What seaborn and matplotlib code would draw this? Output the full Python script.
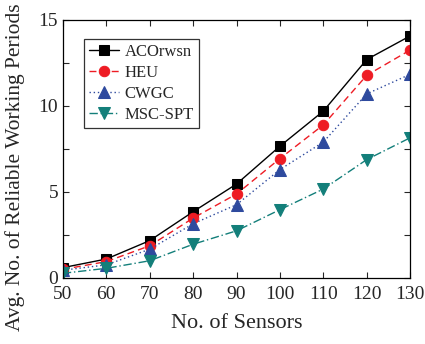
import numpy as np
import pandas as pd
import matplotlib
matplotlib.use("Agg")
import matplotlib.pyplot as plt
import seaborn as sns
from matplotlib.ticker import MultipleLocator

sensors = [50, 60, 70, 80, 90, 100, 110, 120, 130]
aco = [0.6, 1.1, 2.17, 3.85, 5.46, 7.66, 9.7, 12.7, 14.07]
heu = [0.5, 0.95, 1.87, 3.48, 4.88, 6.94, 8.9, 11.78, 13.25]
cwgc = [0.45, 0.76, 1.67, 3.15, 4.26, 6.3, 7.9, 10.7, 11.84]
msc = [0.27, 0.56, 1.0, 1.96, 2.74, 3.97, 5.17, 6.88, 8.15]

sns.set_theme(style="ticks")
plt.rcParams['font.family'] = ['Liberation Serif', 'DejaVu Serif']

fig = plt.figure(figsize=(4.25, 3.44), dpi=100)
ax = fig.add_axes([0.148, 0.192, 0.817, 0.75])

series = [
    ("ACOrwsn", aco, "black", "s", "-", 6.5),
    ("HEU", heu, "#ee1c24", "o", (0, (5, 3)), 7.5),
    ("CWGC", cwgc, "#2e4a9e", "^", (0, (1, 2)), 8),
    ("MSC-SPT", msc, "#137f7a", "v", (0, (6, 2, 1, 2)), 8),
]
for name, vals, col, mk, ls, ms in series:
    sns.lineplot(x=sensors, y=vals, ax=ax, color=col, marker=mk, linestyle=ls,
                 markersize=ms, markeredgecolor=col, linewidth=1.0, label=name)

ax.set_xlim(50, 130)
ax.set_ylim(0, 15)
ax.set_xticks(sensors)
ax.set_yticks([0, 5, 10, 15])
ax.yaxis.set_minor_locator(MultipleLocator(2.5))
ax.tick_params(direction='in', top=True, right=True, labelsize=14, length=4, width=0.8)
ax.tick_params(axis='x', pad=6)
ax.tick_params(which='minor', direction='in', right=True, length=4, width=0.8)
for s in ax.spines.values():
    s.set_linewidth(0.9)
    s.set_color('black')

ax.set_xlabel("No. of Sensors", fontsize=16, labelpad=8)
ax.set_ylabel("Avg. No. of Reliable Working Periods", fontsize=15.5)
ax.yaxis.set_label_coords(-0.108, 0.43)

leg = ax.legend(loc='upper left', bbox_to_anchor=(0.062, 0.925), fontsize=12,
                frameon=True, fancybox=False, edgecolor='black', handlelength=1.8,
                borderpad=0.3, labelspacing=0.3, handletextpad=0.3, borderaxespad=0.0)
leg.get_frame().set_linewidth(0.9)

fig.savefig("out.png", dpi=100)
